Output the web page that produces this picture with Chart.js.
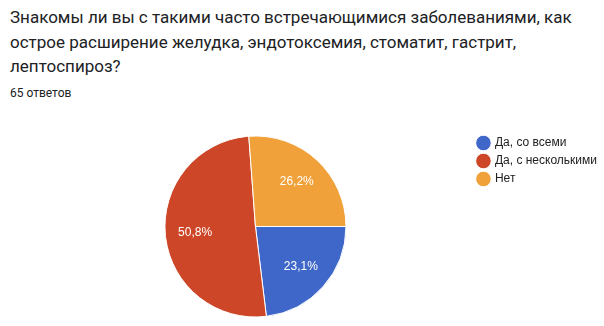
<!doctype html>
<html lang="ru">
<head>
<meta charset="utf-8">
<title>Опрос</title>
<style>
  body { margin: 0; background: #fff; width: 604px; height: 326px; position: relative; overflow: hidden; }
  #title { position: absolute; left: 10px; top: 5px; width: 590px; font-family: Roboto, sans-serif; font-size: 17px; line-height: 24.5px; color: #202124; }
  #sub { position: absolute; left: 10px; top: 86px; font-family: Roboto, sans-serif; font-size: 12px; color: #202124; }
  #wrap { position: absolute; left: 0; top: 110px; width: 607px; height: 216px; }
</style>
</head>
<body>
<div id="title">Знакомы ли вы с такими часто встречающимися заболеваниями, как острое расширение желудка, эндотоксемия, стоматит, гастрит, лептоспироз?</div>
<div id="sub">65 ответов</div>
<div id="wrap"><canvas id="pieChart" width="607" height="216"></canvas></div>
<script src="https://cdn.jsdelivr.net/npm/chart.js@4.4.0/dist/chart.umd.min.js"></script>
<script>
const labels = ['Да, со всеми', 'Да, с несколькими', 'Нет'];
const values = [23.1, 50.8, 26.2];
const colors = ['#3f67c9', '#cc4627', '#f1a13a'];

// percent labels inside the slices
const sliceLabels = {
    id: 'sliceLabels',
    afterDatasetsDraw(chart) {
        const ctx = chart.ctx;
        const meta = chart.getDatasetMeta(0);
        ctx.save();
        ctx.fillStyle = '#ffffff';
        ctx.font = '12px "Liberation Sans", Arial, sans-serif';
        ctx.textAlign = 'center';
        ctx.textBaseline = 'middle';
        meta.data.forEach((arc, i) => {
            const p = arc.getProps(['x', 'y', 'startAngle', 'endAngle', 'outerRadius'], true);
            const a = (p.startAngle + p.endAngle) / 2;
            const r = p.outerRadius * 0.67;
            ctx.fillText(values[i].toFixed(1).replace('.', ',') + '%', p.x + Math.cos(a) * r, p.y + Math.sin(a) * r);
        });
        ctx.restore();
    }
};

new Chart(document.getElementById('pieChart'), {
    type: 'pie',
    data: {
        labels: labels,
        datasets: [{
            data: values,
            backgroundColor: colors,
            borderColor: '#ffffff',
            borderWidth: 1,
            radius: 90.5
        }]
    },
    options: {
        responsive: false,
        animation: false,
        rotation: 90,
        layout: { padding: { top: 21, bottom: 4, left: 39, right: 0 } },
        plugins: {
            legend: {
                position: 'right',
                align: 'start',
                labels: {
                    usePointStyle: true,
                    pointStyle: 'circle',
                    boxWidth: 11,
                    boxHeight: 11,
                    padding: 6,
                    color: '#222222',
                    font: { family: '"Liberation Sans", Arial, sans-serif', size: 12 }
                }
            },
            tooltip: { enabled: false }
        }
    },
    plugins: [sliceLabels]
});
</script>
</body>
</html>
